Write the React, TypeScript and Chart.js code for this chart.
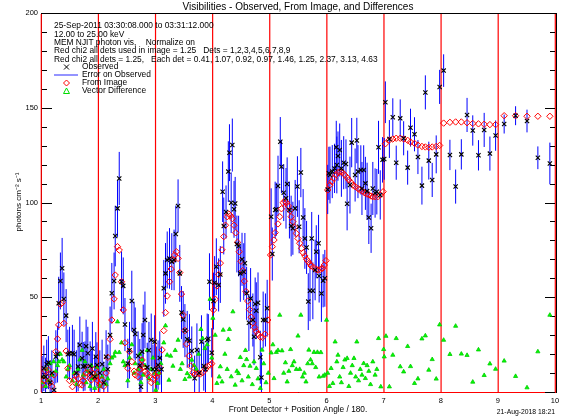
import { useEffect, useRef } from 'react';
import { Chart, registerables } from 'chart.js';
Chart.register(...registerables);

const FONT = "'Liberation Sans', Arial, Helvetica, sans-serif";

// Observed visibilities (black X) with errors (blue bars)
const obsX = [
  1.02,1.05,1.08,1.10,1.13,1.16,1.19,1.23,1.26,1.29,1.31,1.34,1.37,1.40,1.44,1.47,1.50,1.55,1.58,1.62,1.65,1.68,1.72,1.74,1.77,1.79,1.82,1.86,1.88,1.90,1.94,1.96,1.98,
  2.03,2.07,2.10,2.14,2.17,2.21,2.24,2.28,2.30,2.34,2.37,2.41,2.44,2.47,2.52,2.55,2.59,2.63,2.65,2.70,2.73,2.75,2.77,2.79,2.82,2.86,2.89,2.93,2.96,2.99,
  3.02,3.05,3.08,3.11,3.15,3.18,3.21,3.25,3.29,3.33,3.36,3.40,3.43,3.46,3.49,3.52,3.56,3.60,3.64,3.69,3.73,3.77,3.81,3.85,3.88,3.91,3.93,3.95,3.99,
  4.02,4.04,4.07,4.11,4.14,4.18,4.20,4.24,4.28,4.30,4.33,4.35,4.38,4.40,4.43,4.46,4.49,4.52,4.55,4.57,4.60,4.64,4.67,4.71,4.73,4.75,4.77,4.80,4.84,4.86,4.89,4.93,4.96,
  5.03,5.05,5.10,5.12,5.15,5.19,5.21,5.25,5.29,5.31,5.35,5.38,5.41,5.45,5.49,5.52,5.55,5.59,5.62,5.65,5.68,5.71,5.74,5.76,5.80,5.82,5.86,5.87,5.91,5.94,5.97,
  6.02,6.04,6.06,6.10,6.14,6.17,6.18,6.20,6.23,6.26,6.30,6.34,6.36,6.41,6.44,6.50,6.53,6.55,6.60,6.62,6.65,6.68,6.71,6.74,6.78,6.81,6.85,6.88,6.91,6.94,6.98,
  7.01,7.03,7.10,7.16,7.22,7.29,7.35,7.42,7.47,7.54,7.60,7.67,7.73,7.79,7.85,7.92,7.98,
  8.05,8.16,8.26,8.36,8.46,8.56,8.66,8.76,8.86,8.96,
  9.11,9.31,9.51,9.70,9.91,
];
const obsY = [
  8,12.5,8.1,14.6,15.5,5,10,1,18.6,20,46.8,58.6,65.3,49.1,40.3,19.9,20.4,20.4,19.9,10,13.4,24.8,17.8,13.4,13.7,24.2,20.4,13.7,9.8,23,8,18.6,14.2,
  10,14.6,5,18.6,12,30.1,52.1,58.6,82.3,96.9,112.7,58.2,56,35.6,15.1,22,48,32.7,30.6,19,14,2.8,21.3,30.1,38,13,22,27.4,12,26.5,
  12,14.2,18,12,54.7,62.6,69.7,70.5,68.8,69.7,83.4,98.2,62.6,41.9,38.3,32.4,27.8,27.1,21.6,7.2,22.2,10,26.5,13.7,12,27.4,28.1,58.2,20.7,
  48,57.7,66.1,56.5,62,105.7,87.6,95,116.3,126.3,99.9,130.3,96.4,99.5,78.1,77,62.6,70,63.5,67.9,52.1,36.6,49.4,38,29.2,46.4,42.9,47.1,18.3,7.7,38,38,44.2,
  92.5,72.8,96,96.4,108.7,132.1,118.9,105.2,102.2,109.8,96,87.6,86.4,96.9,108.4,87.2,115.8,92.1,81,76.3,47.7,53.4,81,53.4,64.4,74,78.5,61.2,52,58.7,60,
  106.9,115.4,114.5,116.3,118,129.1,119.8,124.5,127.7,118,121,120.3,99.3,109.2,131.6,114.5,132.7,116.3,117.2,107.4,117.2,110.1,106,92.1,86.4,107.4,105,105.7,129.1,104,122.5,
  123,152.9,133.5,145,121,144.4,133.9,118.4,139.5,136,124,108.9,158.1,122.1,111.9,125.4,161,
  169.6,125.1,108.4,125.4,146.2,138,124.9,138.3,125.8,135.3,
  141.4,145.8,143,123.6,120.6,
];
const obsErr = [
  11,12,10,13,14,10,12,10,14,15,14,15,16,14,14,13,14,15,13,12,13,15,14,13,13,14,14,13,12,14,11,13,12,
  12,13,11,14,13,15,16,15,16,15,14,16,15,14,13,15,16,15,14,13,14,12,15,16,15,13,15,14,13,14,
  12,13,14,12,15,16,15,16,15,16,15,14,15,14,15,14,15,14,13,12,14,13,14,13,12,14,13,15,13,
  15,14,15,14,15,16,15,14,16,15,16,14,15,14,15,16,15,14,15,16,14,15,16,14,15,14,15,16,14,13,15,14,15,
  15,14,15,14,16,13,14,15,16,14,15,16,14,15,16,14,13,15,16,14,15,16,14,15,16,14,15,14,15,14,15,
  13,14,15,14,13,14,15,13,14,15,14,13,14,15,13,14,12,14,13,14,13,14,15,14,13,14,13,12,14,13,12,
  11,11,10,10,9,10,9,9,10,9,9,10,9,10,9,10,9,
  8.6,8,9,8,9,8,8,9,9,8,
  5,5,6,6,11,
];

// Model from image (red diamonds)
const modX = [
  1.02,1.05,1.08,1.10,1.13,1.16,1.19,1.23,1.26,1.29,1.31,1.34,1.37,1.40,1.44,1.47,1.50,1.55,1.58,1.62,1.65,1.68,1.72,1.74,1.77,1.79,1.82,1.86,1.88,1.90,1.94,1.96,1.98,
  2.03,2.07,2.10,2.14,2.17,2.21,2.24,2.28,2.30,2.34,2.37,2.41,2.44,2.47,2.52,2.55,2.59,2.63,2.65,2.70,2.73,2.75,2.77,2.79,2.82,2.86,2.89,2.93,2.96,2.99,
  3.02,3.05,3.08,3.12,3.15,3.18,3.21,3.25,3.28,3.31,3.34,3.37,3.40,3.43,3.46,3.49,3.52,3.55,3.59,3.62,3.66,3.70,3.75,3.79,3.83,3.88,3.92,3.96,3.99,
  4.02,4.05,4.08,4.11,4.14,4.17,4.20,4.23,4.26,4.29,4.32,4.35,4.38,4.41,4.44,4.47,4.50,4.53,4.56,4.59,4.62,4.65,4.68,4.71,4.74,4.77,4.80,4.84,4.88,4.92,4.97,
  5.02,5.05,5.08,5.10,5.15,5.18,5.21,5.24,5.27,5.30,5.33,5.36,5.38,5.41,5.44,5.47,5.50,5.53,5.56,5.59,5.62,5.65,5.68,5.71,5.73,5.78,5.82,5.85,5.89,5.93,5.96,5.99,
  6.02,6.06,6.09,6.13,6.16,6.20,6.24,6.28,6.32,6.36,6.39,6.43,6.46,6.50,6.55,6.58,6.62,6.66,6.70,6.74,6.78,6.81,6.85,6.90,6.94,6.99,
  7.03,7.10,7.16,7.22,7.29,7.35,7.42,7.47,7.54,7.60,7.67,7.73,7.79,7.85,7.92,7.98,
  8.05,8.16,8.26,8.36,8.46,8.56,8.66,8.76,8.86,8.96,
  9.11,9.31,9.51,9.70,9.91,
];
const modY = [
  4,6.3,11.1,8,11.6,5,3,9,21.3,28,35.4,46.3,47.1,36.2,21.6,12.5,6,2.8,6.3,9,7,4,3.7,6,8.1,10,12.5,9,6.3,10,12,8,6.3,
  4,6.3,3,10,18.3,27.8,38,49.1,61.7,76.7,74.9,58.2,43.3,26,12.5,21.3,16,11,9,8.1,12,14,16.9,13,11,9.8,8,5,6.7,9,
  8,10,12.8,22.2,32.4,41.9,50.7,58.2,64.9,69.7,72.3,74,70.5,63,51.7,40.6,32.4,25.3,19,13.7,10.2,9.5,9.8,9.5,10.2,12,13.7,14.2,15,
  43.3,49,56,62,68,75,82,88,92.5,93.9,93,91.5,88,84,79,74,69,64,58.5,53,48,43.5,39.5,36.5,34,32,30.5,29,28.8,30.5,38,
  72.3,76.7,80.2,84.1,88.7,92.5,96.7,99.9,100.8,99.9,98.2,95.7,92.5,89.9,86.9,83.7,81,78.5,75.8,73.5,71.8,70,68.8,67.5,66.5,65.6,64.7,64.4,64.7,65.3,67,69.3,
  106.6,109.2,111,112.7,114.5,115.8,116.3,115.8,114.5,113.2,111.9,110.5,109.2,108.4,107.4,106.6,106.1,105.2,104.5,104,103.4,103.1,103.1,103.1,104,105.7,
  131,133,133.5,133.9,133.9,133.5,132.8,131.9,131.2,130.3,129.6,129.3,129.1,129.3,129.6,130.1,
  141.9,142.3,142.5,142.5,142.1,141.7,141.5,141.3,141.1,141.1,
  145.8,145.8,145.5,145.5,145.5,
];

// Vector difference (green triangles)
const diffX = [
  1.02,1.05,1.08,1.10,1.13,1.16,1.19,1.22,1.26,1.29,1.31,1.34,1.37,1.40,1.44,1.47,1.50,1.55,1.58,1.62,1.65,1.68,1.72,1.74,1.77,1.79,1.82,1.86,1.88,1.90,1.94,1.96,1.98,
  2.03,2.07,2.10,2.14,2.17,2.21,2.24,2.28,2.30,2.34,2.37,2.41,2.44,2.47,2.52,2.55,2.59,2.63,2.65,2.70,2.73,2.75,2.77,2.79,2.82,2.86,2.89,2.93,2.96,2.99,
  3.01,3.04,3.07,3.10,3.15,3.18,3.21,3.24,3.27,3.31,3.35,3.40,3.44,3.47,3.52,3.56,3.60,3.64,3.68,3.72,3.76,3.80,3.83,3.87,3.91,3.96,3.99,
  4.01,4.05,4.08,4.12,4.14,4.17,4.19,4.22,4.26,4.28,4.30,4.33,4.36,4.40,4.43,4.46,4.49,4.52,4.55,4.58,4.60,4.63,4.66,4.70,4.73,4.77,4.80,4.84,4.87,4.90,4.94,4.98,
  5.03,5.06,5.08,5.12,5.15,5.18,5.22,5.25,5.28,5.31,5.34,5.37,5.40,5.43,5.47,5.50,5.53,5.55,5.58,5.61,5.64,5.67,5.69,5.72,5.75,5.78,5.81,5.84,5.87,5.90,5.94,5.97,6.00,
  6.02,6.05,6.08,6.11,6.15,6.18,6.20,6.23,6.26,6.29,6.32,6.36,6.39,6.42,6.45,6.48,6.51,6.53,6.56,6.59,6.62,6.65,6.68,6.71,6.74,6.77,6.81,6.85,6.88,6.91,6.95,7.00,
  7.04,7.01,7.10,7.16,7.22,7.29,7.35,7.42,7.47,7.54,7.60,7.67,7.73,7.79,7.85,7.92,7.98,
  8.05,8.16,8.26,8.36,8.46,8.56,8.66,8.76,8.86,8.96,
  9.11,9.31,9.51,9.70,9.91,
];
const diffY = [
  5,8,3,12,6,15,9,16,11,14,16,20,17,16,8,12,14,6,10,4,12,17,22,9,16,5,11,3,14,7,2,9,13,
  3,8,12,4,7,15,18,19,21,37.1,20.9,26,16,14,6,18,25,10,15,12,20,5,17,9,14,22,7,12,18,10,
  1,4.6,10,15,26,35,19.5,6.3,19,13.7,22,27.4,12,15,6.7,9.8,8,16.9,14,12,20,33.1,28.3,23,25,49,18,
  39,30,4.6,8,13.4,5.4,32.7,20,12,27.8,33.1,8.1,42.4,3.7,11,9.8,18.3,6,14,22,17.2,8,13.7,4,16,12.5,7,2,22.2,15,5,10,
  20.7,25,7.2,21,22,40.6,21.8,10,15.5,5.4,11,22.5,14,16,12,29.6,12,40.6,8,10,5.4,15,22.2,17,15,21,13,21,8,20.9,8.4,9,38,
  10,3,12.5,4.6,26.5,16,19.5,8,5,13,17,17.8,3,10,14,17.8,8,26.5,6,12,9,15.1,7.2,14,11,4,16,9,12,28.3,2.8,22.5,
  29.5,18.6,2.8,19.5,28.3,13.4,10.7,24.1,13.5,4.6,7,28.1,29.7,11.6,17.2,6.9,35.5,
  27.4,19.9,34.8,20.1,19.4,5.3,22.3,8.8,14.9,12.1,
  16.4,8.3,2.3,21.3,40.6,
];

const detectorLines = [1, 2, 3, 4, 5, 6, 7, 8, 9, 10];
const xTicks = [1, 2, 3, 4, 5, 6, 7, 8, 9, 10];
const yTicks = [0, 50, 100, 150, 200];
const yMinorStep = 10;

const titleText = 'Visibilities - Observed, From Image, and Differences';
const xTitle = 'Front Detector + Position Angle / 180.';
const yTitle = 'photons cm\u207B\u00B2 s\u207B\u00B9';
const dateText = '21-Aug-2018 18:21';
const infoLines = [
  '25-Sep-2011 03:30:08.000 to 03:31:12.000',
  '12.00 to 25.00 keV',
  'MEM NJIT photon vis,    Normalize on',
  'Red chi2 all dets used in image = 1.25   Dets = 1,2,3,4,5,6,7,8,9',
  'Red chi2 all dets = 1.25,   Each det = 0.41, 1.07, 0.92, 0.97, 1.46, 1.25, 2.37, 3.13, 4.63',
];
const legendLabels = ['Observed', 'Error on Observed', 'From Image', 'Vector Difference'];

const overlay = {
  id: 'overlay',
  beforeDatasetsDraw(chart: any) {
    const { ctx, chartArea: a, scales } = chart;
    const xs = scales.x, ys = scales.y;
    ctx.save();
    // frame
    ctx.strokeStyle = '#000';
    ctx.lineWidth = 1;
    ctx.strokeRect(a.left + 0.5, a.top + 0.5, a.right - a.left + 1, a.bottom - a.top);
    // detector separators
    ctx.strokeStyle = '#ff0000';
    ctx.lineWidth = 1.2;
    for (const d of detectorLines) {
      const px = xs.getPixelForValue(d) + 0.3;
      ctx.beginPath();
      ctx.moveTo(px, a.top + 1);
      ctx.lineTo(px, a.bottom);
      ctx.stroke();
    }
    ctx.lineWidth = 1;
    const y0 = Math.round(ys.getPixelForValue(0)) + 0.5;
    ctx.beginPath();
    ctx.moveTo(a.left, y0);
    ctx.lineTo(a.right + 1, y0);
    ctx.stroke();
    // inward ticks
    ctx.strokeStyle = '#000';
    for (let v = 0; v <= 200; v += yMinorStep) {
      const py = Math.round(ys.getPixelForValue(v)) + 0.5;
      const len = v % 50 === 0 ? 10 : 5;
      ctx.beginPath();
      ctx.moveTo(a.left + 1, py);
      ctx.lineTo(a.left + 1 + len, py);
      ctx.moveTo(a.right, py);
      ctx.lineTo(a.right - len, py);
      ctx.stroke();
    }
    // error bars
    ctx.strokeStyle = '#0000ff';
    ctx.lineWidth = 1;
    for (let i = 0; i < obsX.length; i++) {
      const px = xs.getPixelForValue(obsX[i]);
      ctx.beginPath();
      ctx.moveTo(px, ys.getPixelForValue(Math.max(0, obsY[i] - obsErr[i])));
      ctx.lineTo(px, ys.getPixelForValue(obsY[i] + obsErr[i]));
      ctx.stroke();
    }
    ctx.restore();
  },
  afterDraw(chart: any) {
    const { ctx, chartArea: a } = chart;
    ctx.save();
    ctx.fillStyle = '#000';
    ctx.textBaseline = 'middle';
    // title
    ctx.font = `10px ${FONT}`;
    ctx.textAlign = 'center';
    ctx.fillText(titleText, (a.left + a.right) / 2, 7);
    // x title
    ctx.font = `8.3px ${FONT}`;
    ctx.fillText(xTitle, 298, 410);
    // date
    ctx.font = `6.8px ${FONT}`;
    ctx.textAlign = 'right';
    ctx.fillText(dateText, a.right, 412);
    // y title
    ctx.save();
    ctx.translate(19, 202);
    ctx.rotate(-Math.PI / 2);
    ctx.textAlign = 'center';
    ctx.font = `8px ${FONT}`;
    ctx.fillText(yTitle, 0, 0);
    ctx.restore();
    // info text
    ctx.textAlign = 'left';
    ctx.font = `8.4px ${FONT}`;
    const infoY = [26, 34.3, 42.7, 51, 59.3];
    infoLines.forEach((t, i) => ctx.fillText(t, 54, infoY[i]));
    // legend
    const ly = [67, 75, 83, 91];
    legendLabels.forEach((t, i) => ctx.fillText(t, 82, ly[i]));
    const sx = 66.5;
    ctx.lineWidth = 1;
    ctx.strokeStyle = '#000';
    ctx.beginPath();
    ctx.moveTo(sx - 2.5, ly[0] - 2.5); ctx.lineTo(sx + 2.5, ly[0] + 2.5);
    ctx.moveTo(sx + 2.5, ly[0] - 2.5); ctx.lineTo(sx - 2.5, ly[0] + 2.5);
    ctx.stroke();
    ctx.strokeStyle = '#7070ff';
    ctx.lineWidth = 1.5;
    ctx.beginPath();
    ctx.moveTo(54, ly[1]); ctx.lineTo(78, ly[1]);
    ctx.stroke();
    ctx.lineWidth = 1;
    ctx.strokeStyle = '#ff0000';
    ctx.beginPath();
    ctx.moveTo(sx, ly[2] - 3); ctx.lineTo(sx + 3, ly[2]); ctx.lineTo(sx, ly[2] + 3); ctx.lineTo(sx - 3, ly[2]); ctx.closePath();
    ctx.stroke();
    ctx.strokeStyle = '#00dd00';
    ctx.beginPath();
    ctx.moveTo(sx, ly[3] - 3); ctx.lineTo(sx + 3, ly[3] + 2.5); ctx.lineTo(sx - 3, ly[3] + 2.5); ctx.closePath();
    ctx.stroke();
    ctx.restore();
  },
};

export default function App() {
  const ref = useRef<HTMLCanvasElement | null>(null);
  useEffect(() => {
    document.body.style.margin = '0';
    document.body.style.overflow = 'hidden';
    const canvas = ref.current;
    if (!canvas) return;
    const toPts = (xs: number[], ys: number[]) => xs.map((x, i) => ({ x, y: ys[i] }));
    const chart = new Chart(canvas, {
      type: 'scatter',
      data: {
        datasets: [
          {
            label: 'Observed',
            data: toPts(obsX, obsY),
            pointStyle: 'crossRot',
            pointRadius: 3,
            borderColor: '#000',
            backgroundColor: '#000',
            pointBorderWidth: 1.1,
          },
          {
            label: 'From Image',
            data: toPts(modX, modY),
            pointStyle: 'rectRot',
            pointRadius: 3.2,
            borderColor: '#ff0000',
            backgroundColor: 'rgba(0,0,0,0)',
            pointBorderWidth: 1,
          },
          {
            label: 'Vector Difference',
            data: toPts(diffX, diffY),
            pointStyle: 'triangle',
            pointRadius: 2.4,
            borderColor: '#00cc00',
            backgroundColor: '#00ff00',
            pointBorderWidth: 0.8,
          },
        ],
      },
      options: {
        animation: false,
        responsive: false,
        layout: { padding: { top: 13, right: 13, left: 0, bottom: 0 } },
        plugins: { legend: { display: false }, tooltip: { enabled: false }, title: { display: false } },
        scales: {
          x: {
            type: 'linear',
            min: 1,
            max: 10,
            afterBuildTicks: (s: any) => { s.ticks = xTicks.map((v) => ({ value: v })); },
            afterFit: (s: any) => { s.height = 27; },
            ticks: { font: { size: 7.5, family: FONT }, color: '#000', padding: 4, maxRotation: 0, autoSkip: false },
            grid: { display: false, drawTicks: false },
            border: { display: false },
          },
          y: {
            min: 0,
            max: 200,
            afterBuildTicks: (s: any) => { s.ticks = yTicks.map((v) => ({ value: v })); },
            afterFit: (s: any) => { s.width = 41; },
            ticks: { font: { size: 7.5, family: FONT }, color: '#000', padding: 3 },
            grid: { display: false, drawTicks: false },
            border: { display: false },
          },
        },
      },
      plugins: [overlay],
    });
    return () => chart.destroy();
  }, []);
  return <canvas ref={ref} width={568} height={419} style={{ display: 'block' }} />;
}
